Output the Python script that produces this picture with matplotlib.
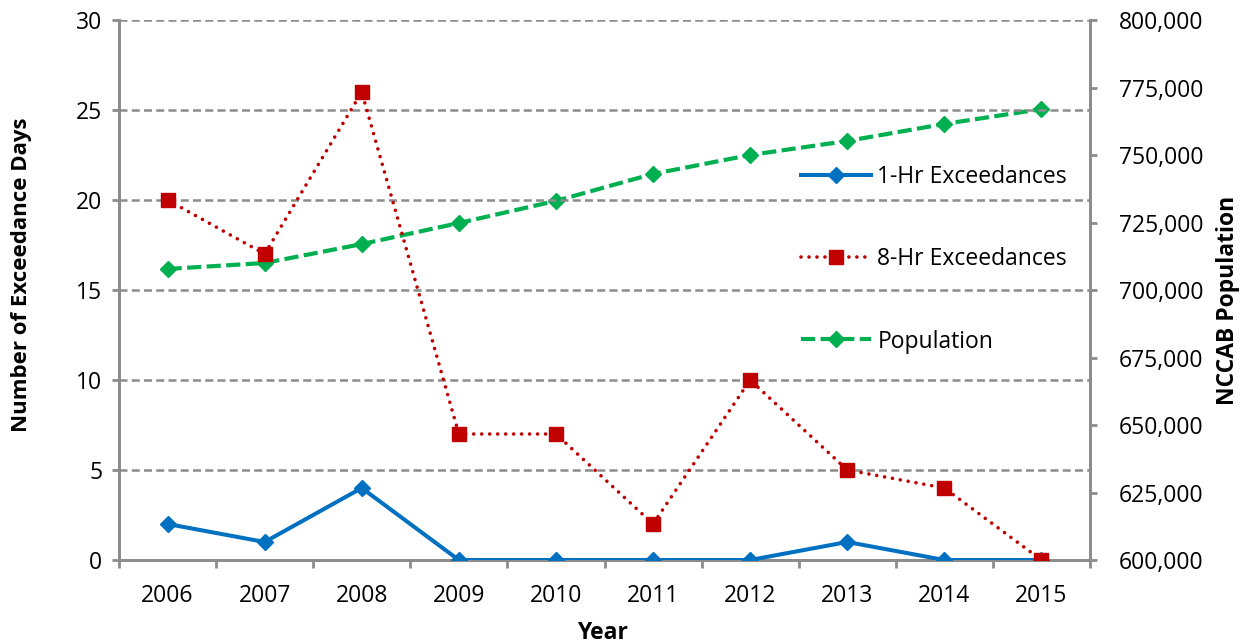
import matplotlib
matplotlib.use("Agg")
import matplotlib.pyplot as plt
from matplotlib.ticker import FuncFormatter, FixedLocator

years = ["2006", "2007", "2008", "2009", "2010", "2011", "2012", "2013", "2014", "2015"]
one_hr = [2, 1, 4, 0, 0, 0, 0, 1, 0, 0]
eight_hr = [20, 17, 26, 7, 7, 2, 10, 5, 4, 0]
population = [707800, 710000, 717000, 724800, 733000, 743000, 750000, 755200, 761500, 767000]

plt.rcParams['font.family'] = ['Open Sans', 'DejaVu Sans']

fig = plt.figure(figsize=(12.46, 6.44), dpi=100)
ax = fig.add_axes([119/1246, 1-560/644, (1090-119)/1246, (560-20)/644])
ax2 = ax.twinx()

x = list(range(len(years)))
gray = "#8c8c8c"
blue = "#0070C0"
red = "#C00000"
green = "#00B050"

l1, = ax.plot(x, one_hr, color=blue, lw=2.9, marker="D", ms=8.5, label="1-Hr Exceedances", zorder=5)
l2, = ax.plot(x, eight_hr, color=red, lw=2.6, ls=(0, (0.01, 2.2)), dash_capstyle="round",
              marker="s", ms=9.5, label="8-Hr Exceedances", zorder=5)
l3, = ax2.plot(x, population, color=green, lw=3.0, ls=(0, (3.4, 1.3)), marker="D", ms=8.5,
               label="Population", zorder=5)

ax.set_xlim(-0.5, len(years) - 0.5)
ax.set_ylim(0, 30)
ax2.set_ylim(600000, 800000)
ax.set_yticks(range(0, 31, 5))
ax2.set_yticks(range(600000, 800001, 25000))
ax2.yaxis.set_major_formatter(FuncFormatter(lambda v, p: f"{int(v):,}"))

ax.set_xticks(x)
ax.set_xticklabels(years)
ax.xaxis.set_minor_locator(FixedLocator([i - 0.5 for i in range(len(years) + 1)]))
ax.tick_params(axis="x", which="major", length=0, pad=17, labelsize=16.5)
ax.tick_params(axis="x", which="minor", length=6, width=2, color=gray, direction="out")
ax.tick_params(axis="y", length=5, width=2, color=gray, labelsize=16.5, pad=7)
ax2.tick_params(axis="y", length=5, width=2, color=gray, labelsize=16.5, pad=16)

for a in (ax, ax2):
    a.spines["top"].set_visible(False)
    for s in ("left", "right", "bottom"):
        a.spines[s].set_color(gray)
        a.spines[s].set_linewidth(2)

ax.yaxis.grid(True, color=gray, ls=(0, (3.2, 1.7)), lw=1.8)
ax.set_axisbelow(True)
ax.set_zorder(ax2.get_zorder() + 1)
ax.patch.set_visible(False)

fig.text(22/1246, 1-275/644, "Number of Exceedance Days", rotation=90, ha="center", va="center",
         fontsize=16, fontweight="bold")
fig.text(1228/1246, 1-300/644, "NCCAB Population", rotation=90, ha="center", va="center",
         fontsize=16.5, fontweight="bold")
fig.text(602/1246, 1-633/644, "Year", ha="center", va="center", fontsize=16.5, fontweight="bold")

leg = ax.legend(handles=[l1, l2, l3], loc="upper left", bbox_to_anchor=(780/1246, 1-144/644),
                bbox_transform=fig.transFigure, frameon=False, fontsize=16.5,
                labelspacing=2.55, handlelength=3.05, handletextpad=0.3)

fig.savefig("out.png", dpi=100)
